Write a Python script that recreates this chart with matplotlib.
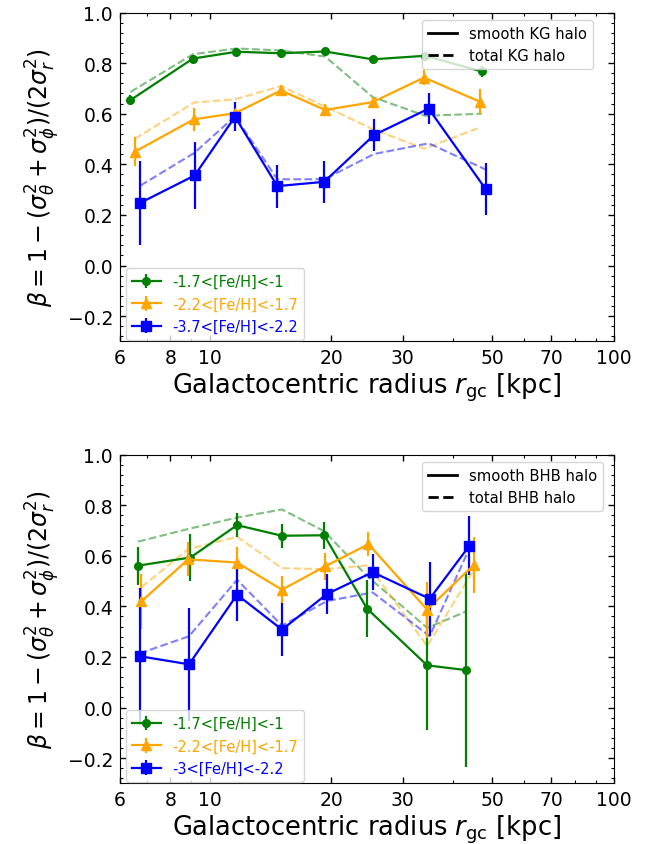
import matplotlib
matplotlib.use("Agg")
import matplotlib.pyplot as plt
from matplotlib.ticker import FixedLocator, FixedFormatter, AutoMinorLocator, NullFormatter
import numpy as np

# ---------------- data: top panel (KG halo) ----------------
kg_r_g = [6.37, 9.09, 11.65, 15.0, 19.3, 25.3, 34.1, 47.1]
kg_b_g = [0.654, 0.818, 0.845, 0.839, 0.846, 0.815, 0.829, 0.767]
kg_e_g = [0.02, 0.015, 0.015, 0.015, 0.015, 0.015, 0.015, 0.02]
kg_t_g = [0.686, 0.835, 0.858, 0.850, 0.826, 0.666, 0.592, 0.600]

kg_r_o = [6.53, 9.14, 11.55, 15.0, 19.3, 25.3, 33.9, 46.5]
kg_b_o = [0.450, 0.578, 0.602, 0.692, 0.615, 0.646, 0.743, 0.648]
kg_e_o = [0.058, 0.046, 0.03, 0.02, 0.025, 0.02, 0.03, 0.05]
kg_t_o = [0.501, 0.644, 0.657, 0.709, 0.628, 0.539, 0.462, 0.545]

kg_r_b = [6.74, 9.18, 11.55, 14.7, 19.2, 25.5, 34.8, 48.1]
kg_b_b = [0.248, 0.356, 0.588, 0.314, 0.331, 0.516, 0.620, 0.303]
kg_e_b = [0.165, 0.131, 0.058, 0.085, 0.084, 0.062, 0.061, 0.102]
kg_t_b = [0.316, 0.446, 0.590, 0.341, 0.341, 0.441, 0.483, 0.380]

# ---------------- data: bottom panel (BHB halo) ----------------
bhb_r_g = [6.65, 8.96, 11.69, 15.09, 19.2, 24.5, 34.5, 43.1]
bhb_b_g = [0.561, 0.593, 0.721, 0.679, 0.681, 0.391, 0.167, 0.148]
bhb_e_g = [0.075, 0.094, 0.046, 0.048, 0.053, 0.112, 0.255, 0.384]
bhb_t_g = [0.656, 0.708, 0.751, 0.783, 0.697, 0.520, 0.315, 0.380]

bhb_r_o = [6.78, 8.85, 11.69, 15.09, 19.3, 24.7, 34.5, 45.0]
bhb_b_o = [0.420, 0.586, 0.573, 0.466, 0.558, 0.646, 0.387, 0.564]
bhb_e_o = [0.109, 0.067, 0.06, 0.054, 0.052, 0.046, 0.111, 0.112]
bhb_t_o = [0.476, 0.626, 0.675, 0.551, 0.547, 0.562, 0.243, 0.544]

bhb_r_b = [6.71, 8.89, 11.69, 15.1, 19.5, 25.3, 35.0, 43.9]
bhb_b_b = [0.203, 0.171, 0.446, 0.308, 0.449, 0.535, 0.430, 0.640]
bhb_e_b = [0.27, 0.223, 0.103, 0.105, 0.079, 0.071, 0.147, 0.117]
bhb_t_b = [0.214, 0.282, 0.505, 0.324, 0.421, 0.455, 0.282, 0.630]

colors = ["green", "orange", "blue"]
markers = ["o", "^", "s"]
msizes = [5.5, 7, 6.5]
kg_labels = ["-1.7<[Fe/H]<-1", "-2.2<[Fe/H]<-1.7", "-3.7<[Fe/H]<-2.2"]
bhb_labels = ["-1.7<[Fe/H]<-1", "-2.2<[Fe/H]<-1.7", "-3<[Fe/H]<-2.2"]
xticks = [6, 8, 10, 20, 30, 50, 70, 100]
yticks = [-0.2, 0.0, 0.2, 0.4, 0.6, 0.8, 1.0]

fig = plt.figure(figsize=(6.57, 8.45), dpi=100)
ax1 = fig.add_axes([0.1826, 0.5947, 0.752, 0.3893])
ax2 = fig.add_axes([0.1826, 0.0716, 0.752, 0.3893])

panels = [
    (ax1,
     [(kg_r_g, kg_b_g, kg_e_g, kg_t_g), (kg_r_o, kg_b_o, kg_e_o, kg_t_o), (kg_r_b, kg_b_b, kg_e_b, kg_t_b)],
     kg_labels, "KG", 0.596),
    (ax2,
     [(bhb_r_g, bhb_b_g, bhb_e_g, bhb_t_g), (bhb_r_o, bhb_b_o, bhb_e_o, bhb_t_o), (bhb_r_b, bhb_b_b, bhb_e_b, bhb_t_b)],
     bhb_labels, "BHB", 0.596),
]

ylabel = r"$\beta=1-(\sigma_\theta^2+\sigma_\phi^2)/(2\sigma_r^2)$"
xlabel = r"Galactocentric radius $r_{\rm gc}$ [kpc]"

for ax, series, labels, name, lx in panels:
    handles = []
    for (r, b, e, t), c, m, ms, lab in zip(series, colors, markers, msizes, labels):
        h = ax.errorbar(r, b, yerr=e, color=c, marker=m, ms=ms, lw=1.6,
                        elinewidth=1.6, capsize=0, label=lab, zorder=3)
        handles.append(h)
        ax.plot(r, t, color=c, ls="--", lw=1.5, alpha=0.5, zorder=2)
    ax.set_xscale("log")
    ax.set_xlim(6, 100)
    ax.set_ylim(-0.3, 1.0)
    ax.xaxis.set_major_locator(FixedLocator(xticks))
    ax.xaxis.set_major_formatter(FixedFormatter([str(v) for v in xticks]))
    ax.xaxis.set_minor_locator(FixedLocator([7, 9, 40, 60, 80, 90]))
    ax.xaxis.set_minor_formatter(NullFormatter())
    ax.set_yticks(yticks)
    ax.yaxis.set_minor_locator(AutoMinorLocator(5))
    ax.tick_params(which="both", direction="in", top=True, right=True, labelsize=13.5)
    ax.tick_params(which="major", length=4, width=1, pad=5)
    ax.tick_params(which="minor", length=2.2, width=0.8)
    ax.set_xlabel(xlabel, fontsize=18.5, labelpad=2)
    ax.set_ylabel(ylabel, fontsize=17, labelpad=4)

    leg1 = ax.legend(handles=handles, loc="lower left", fontsize=10.5,
                     bbox_to_anchor=(0.012, 0.006), borderaxespad=0,
                     handlelength=2.0)
    for txt, c in zip(leg1.get_texts(), colors):
        txt.set_color(c)
    ax.add_artist(leg1)
    l_s, = ax.plot([], [], color="black", ls="-", lw=2, label="smooth %s halo" % name)
    l_t, = ax.plot([], [], color="black", ls="--", lw=2, label="total %s halo" % name)
    ax.legend(handles=[l_s, l_t], loc="upper left", fontsize=10.6,
              bbox_to_anchor=(lx, 1.0))

fig.savefig("out.png", dpi=100)
